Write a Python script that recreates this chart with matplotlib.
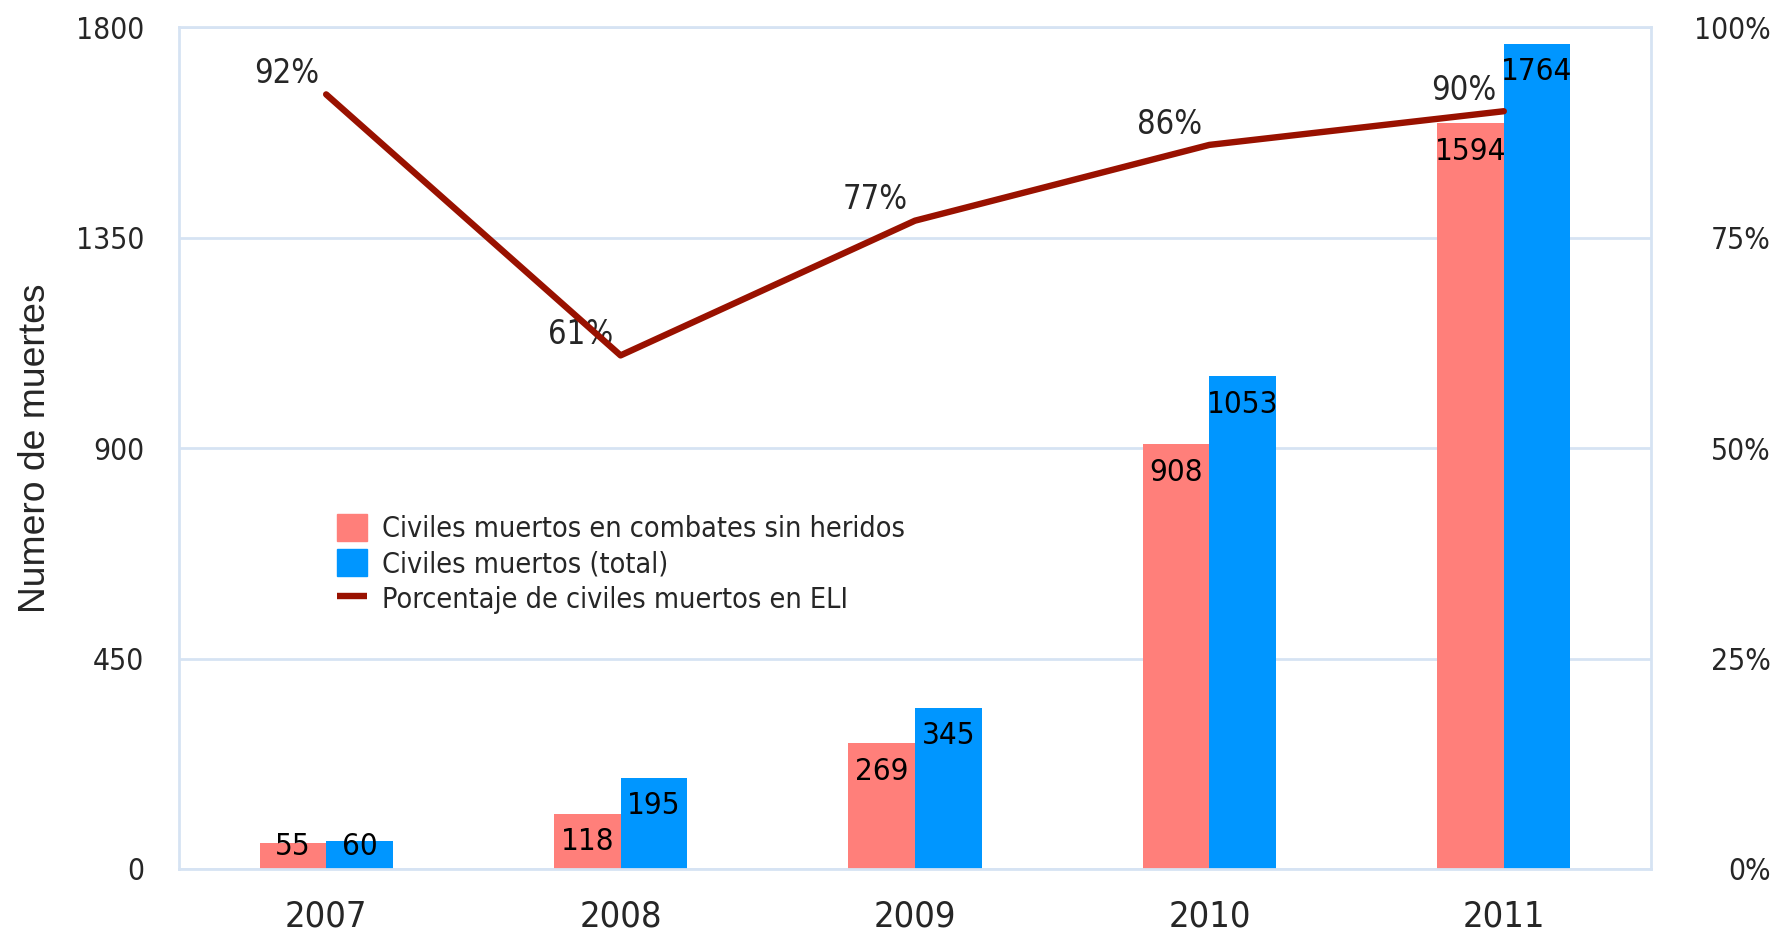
import matplotlib
matplotlib.use("Agg")
import matplotlib.pyplot as plt
import numpy as np
from matplotlib.patches import Patch
from matplotlib.lines import Line2D
from matplotlib.ticker import FuncFormatter

years = ["2007", "2008", "2009", "2010", "2011"]
sin_heridos = [55, 118, 269, 908, 1594]
total = [60, 195, 345, 1053, 1764]
porcentaje = [0.92, 0.61, 0.77, 0.86, 0.90]
left_ticks = [0, 450, 900, 1350, 1800]
right_ticks = [0, 0.25, 0.5, 0.75, 1.0]

PINK = "#FF7F7A"
BLUE = "#0096FF"
RED = "#991100"
GRID = "#D6E3F3"
TXT = "#262626"

plt.rcParams['font.family'] = ['DejaVu Sans']
plt.rcParams['font.stretch'] = 'condensed'

fig = plt.figure(figsize=(17.77, 9.32), dpi=100)
ax = fig.add_axes([0.1007, 0.0676, 0.9291 - 0.1007, 0.971 - 0.0676])
ax2 = ax.twinx()

x = np.arange(len(years))
w = 0.226
ax.bar(x - w / 2, sin_heridos, width=w, color=PINK, zorder=2)
ax.bar(x + w / 2, total, width=w, color=BLUE, zorder=2)

ax.set_xlim(-0.5, len(years) - 0.5)
ax.set_ylim(0, 1800)
ax.set_yticks(left_ticks)
ax.set_xticks(x)
ax.set_xticklabels(years)
ax.set_axisbelow(True)
ax.grid(axis='y', color=GRID, linewidth=2)
for s in ax.spines.values():
    s.set_color(GRID)
    s.set_linewidth(2)
for s in ax2.spines.values():
    s.set_visible(False)

ax.tick_params(axis='y', length=0, pad=25, labelsize=21.5, labelcolor=TXT)
ax.tick_params(axis='x', length=0, pad=22, labelsize=26, labelcolor=TXT)

fig.text(45 / 1777, 0.519, "Numero de muertes", rotation=90, rotation_mode='anchor',
         ha='center', va='baseline', fontsize=26.8, color=TXT,
         family=['Liberation Sans', 'DejaVu Sans'], fontstretch='normal')

# bar labels
for xi, v in zip(x - w / 2, sin_heridos):
    ax.text(xi, max(v - 60, 48), str(v), ha='center', va='center', fontsize=22.5, color='black', zorder=3)
for xi, v in zip(x + w / 2, total):
    ax.text(xi, max(v - 60, 48), str(v), ha='center', va='center', fontsize=22.5, color='black', zorder=3)

ax2.plot(x, porcentaje, color=RED, linewidth=4.6, solid_capstyle='round', solid_joinstyle='round', zorder=4)
ax2.set_ylim(0, 1)
ax2.set_yticks(right_ticks)
ax2.yaxis.set_major_formatter(FuncFormatter(lambda v, p: f"{int(round(v * 100))}%"))
ax2.tick_params(axis='y', length=0, pad=86, labelsize=21.5, labelcolor=TXT)
for lab in ax2.get_yticklabels():
    lab.set_horizontalalignment('right')

for xi, p in zip(x, porcentaje):
    ax2.annotate(f"{int(round(p * 100))}%", (xi, p), xytext=(-28.5, 15), textcoords='offset points',
                 ha='center', va='center', fontsize=23.5, color=TXT)

handles = [Patch(color=PINK), Patch(color=BLUE),
           Line2D([0], [0], color=RED, linewidth=4.6, solid_capstyle='butt')]
labels = ["Civiles muertos en combates sin heridos", "Civiles muertos (total)",
          "Porcentaje de civiles muertos en ELI"]
leg = fig.legend(handles, labels, loc='center left', bbox_to_anchor=(0.1817, 0.395),
                 frameon=False, fontsize=20.6, borderpad=0, handlelength=1.05, handleheight=1.05,
                 handletextpad=0.5, labelspacing=0.22, labelcolor=TXT)

fig.savefig("out.png", dpi=100)
